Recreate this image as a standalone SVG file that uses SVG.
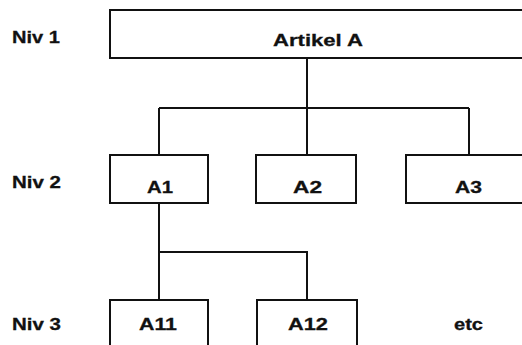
<svg xmlns="http://www.w3.org/2000/svg" width="522" height="345" viewBox="0 0 522 345">
<style>
.box{fill:#fff;stroke:#111;stroke-width:2}
.ln{fill:none;stroke:#111;stroke-width:2}
text{font-family:"Liberation Sans",Arial,sans-serif;font-weight:bold;font-size:17px;fill:#111;stroke:#111;stroke-width:0.3}
</style>
<rect width="522" height="345" fill="#fff"/>
<g id="labels">
<text x="12" y="43" textLength="48" lengthAdjust="spacingAndGlyphs">Niv 1</text>
<text x="12" y="188" textLength="49" lengthAdjust="spacingAndGlyphs">Niv 2</text>
<text x="12" y="330" textLength="49" lengthAdjust="spacingAndGlyphs">Niv 3</text>
</g>
<g id="connectors">
<path class="ln" d="M307 58V108M159 108H469M159 108V155M307 108V155M469 108V155"/>
<path class="ln" d="M159 203V300M159 252H307V300"/>
</g>
<g id="artikelA">
<rect class="box" x="110" y="10" width="430" height="48"/>
<text x="273" y="46" textLength="90" lengthAdjust="spacingAndGlyphs">Artikel A</text>
</g>
<g id="A1">
<rect class="box" x="110" y="155" width="98" height="48"/>
<text x="147" y="193" textLength="26" lengthAdjust="spacingAndGlyphs">A1</text>
</g>
<g id="A2">
<rect class="box" x="256" y="155" width="100" height="48"/>
<text x="293" y="193" textLength="29" lengthAdjust="spacingAndGlyphs">A2</text>
</g>
<g id="A3">
<rect class="box" x="406" y="155" width="130" height="48"/>
<text x="455" y="193" textLength="27" lengthAdjust="spacingAndGlyphs">A3</text>
</g>
<g id="A11">
<rect class="box" x="110" y="300" width="98" height="60"/>
<text x="139" y="330" textLength="38" lengthAdjust="spacingAndGlyphs">A11</text>
</g>
<g id="A12">
<rect class="box" x="257" y="300" width="100" height="60"/>
<text x="288" y="330" textLength="40" lengthAdjust="spacingAndGlyphs">A12</text>
</g>
<g id="etc">
<text x="454" y="330" textLength="29" lengthAdjust="spacingAndGlyphs">etc</text>
</g>
</svg>
